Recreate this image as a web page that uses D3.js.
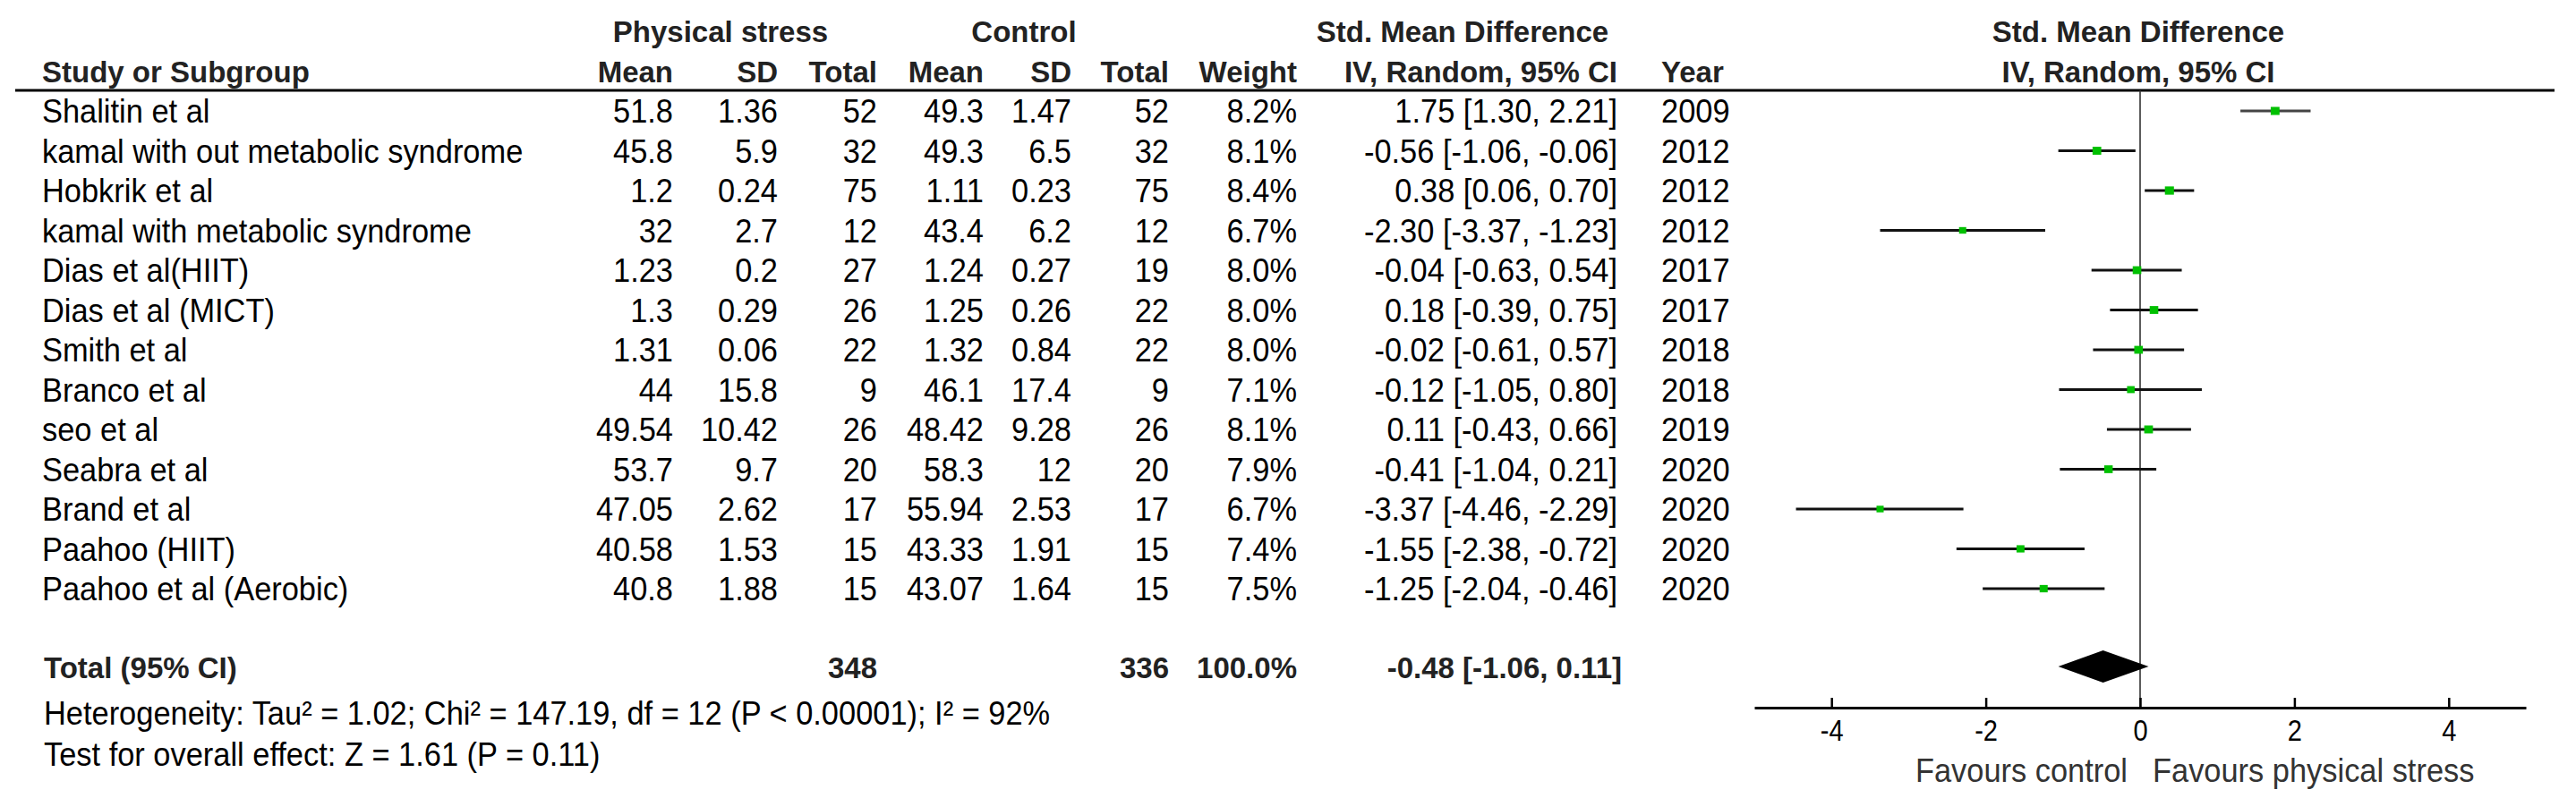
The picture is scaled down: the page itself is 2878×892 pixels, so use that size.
<!DOCTYPE html>
<html>
<head>
<meta charset="utf-8">
<script src="https://cdn.jsdelivr.net/npm/d3@7/dist/d3.min.js"></script>
<style>
  html, body { margin: 0; padding: 0; background: #fff; }
  svg { display: block; }
  text { font-family: "Liberation Sans", Arial, sans-serif; fill: #000; }
  .b { font-weight: bold; fill: #222; }
</style>
</head>
<body>
<svg id="chart" width="2878" height="892"></svg>
<script>
// ---- data ----
const studies = ["Shalitin et al", "kamal with out metabolic syndrome", "Hobkrik et al",
  "kamal with metabolic syndrome", "Dias et al(HIIT)", "Dias et al (MICT)", "Smith et al",
  "Branco et al", "seo et al", "Seabra et al", "Brand et al", "Paahoo (HIIT)", "Paahoo et al (Aerobic)"];
const psMean  = [51.8, 45.8, 1.2, 32, 1.23, 1.3, 1.31, 44, 49.54, 53.7, 47.05, 40.58, 40.8];
const psSD    = [1.36, 5.9, 0.24, 2.7, 0.2, 0.29, 0.06, 15.8, 10.42, 9.7, 2.62, 1.53, 1.88];
const psTotal = [52, 32, 75, 12, 27, 26, 22, 9, 26, 20, 17, 15, 15];
const ctMean  = [49.3, 49.3, 1.11, 43.4, 1.24, 1.25, 1.32, 46.1, 48.42, 58.3, 55.94, 43.33, 43.07];
const ctSD    = [1.47, 6.5, 0.23, 6.2, 0.27, 0.26, 0.84, 17.4, 9.28, 12, 2.53, 1.91, 1.64];
const ctTotal = [52, 32, 75, 12, 19, 22, 22, 9, 26, 20, 17, 15, 15];
const weights = [8.2, 8.1, 8.4, 6.7, 8.0, 8.0, 8.0, 7.1, 8.1, 7.9, 6.7, 7.4, 7.5];
const smd     = [1.75, -0.56, 0.38, -2.30, -0.04, 0.18, -0.02, -0.12, 0.11, -0.41, -3.37, -1.55, -1.25];
const ciLow   = [1.30, -1.06, 0.06, -3.37, -0.63, -0.39, -0.61, -1.05, -0.43, -1.04, -4.46, -2.38, -2.04];
const ciHigh  = [2.21, -0.06, 0.70, -1.23, 0.54, 0.75, 0.57, 0.80, 0.66, 0.21, -2.29, -0.72, -0.46];
const years   = [2009, 2012, 2012, 2012, 2017, 2017, 2018, 2018, 2019, 2020, 2020, 2020, 2020];
const total   = { ps: 348, ct: 336, weight: 100.0, smd: -0.48, lo: -1.06, hi: 0.11 };
const ticks   = [-4, -2, 0, 2, 4];
const hetText = "Heterogeneity: Tau\u00B2 = 1.02; Chi\u00B2 = 147.19, df = 12 (P < 0.00001); I\u00B2 = 92%";
const effText = "Test for overall effect: Z = 1.61 (P = 0.11)";

// ---- layout ----
const svg = d3.select("#chart");
const fs = 37, sx = 0.93, fsb = 33;
const x = d3.scaleLinear().domain([-5, 5]).range([1960, 2822]);
const y = d3.scalePoint().domain(d3.range(studies.length)).range([124, 658]);
const yTotal = 745, yAxis = 791, yHeadLine = 101;
const base = 13;

const fmt2 = v => v.toFixed(2);
const ciStr = (m, l, h) => `${fmt2(m)} [${fmt2(l)}, ${fmt2(h)}]`;

function txt(xp, yp, s, anchor, bold, size, color) {
  const g = svg.append("g").attr("transform", bold ? `translate(${xp},${yp})` : `translate(${xp},${yp}) scale(${sx},1)`);
  g.append("text").attr("text-anchor", anchor || "start")
    .attr("class", bold ? "b" : null).style("font-size", (size || (bold ? fsb : fs)) + "px")
    .style("fill", color || null).text(s);
}
// header
txt(805, 47, "Physical stress", "middle", true);
txt(1144, 47, "Control", "middle", true);
txt(1634, 47, "Std. Mean Difference", "middle", true);
txt(2389, 47, "Std. Mean Difference", "middle", true);
txt(47, 92, "Study or Subgroup", "start", true);
txt(752, 92, "Mean", "end", true);
txt(869, 92, "SD", "end", true);
txt(980, 92, "Total", "end", true);
txt(1099, 92, "Mean", "end", true);
txt(1197, 92, "SD", "end", true);
txt(1306, 92, "Total", "end", true);
txt(1449, 92, "Weight", "end", true);
txt(1807, 92, "IV, Random, 95% CI", "end", true);
txt(1856, 92, "Year", "start", true);
txt(2389, 92, "IV, Random, 95% CI", "middle", true);

svg.append("line").attr("x1", 17).attr("x2", 2854).attr("y1", yHeadLine).attr("y2", yHeadLine)
  .attr("stroke", "#000").attr("stroke-width", 3);

// rows
const cols = [
  { x: 47,   a: "start", f: i => studies[i] },
  { x: 752,  a: "end",   f: i => String(psMean[i]) },
  { x: 869,  a: "end",   f: i => String(psSD[i]) },
  { x: 980,  a: "end",   f: i => String(psTotal[i]) },
  { x: 1099, a: "end",   f: i => String(ctMean[i]) },
  { x: 1197, a: "end",   f: i => String(ctSD[i]) },
  { x: 1306, a: "end",   f: i => String(ctTotal[i]) },
  { x: 1449, a: "end",   f: i => weights[i].toFixed(1) + "%" },
  { x: 1807, a: "end",   f: i => ciStr(smd[i], ciLow[i], ciHigh[i]) },
  { x: 1856, a: "start", f: i => String(years[i]) }
];
const rows = svg.append("g").selectAll("g").data(d3.range(studies.length)).join("g");
cols.forEach(c => {
  rows.append("g").attr("transform", i => `translate(${c.x},${y(i) + base}) scale(${sx},1)`)
    .append("text").attr("text-anchor", c.a).style("font-size", fs + "px").text(c.f);
});

// zero line
svg.append("line").attr("x1", x(0)).attr("x2", x(0)).attr("y1", yHeadLine).attr("y2", yAxis)
  .attr("stroke", "#333").attr("stroke-width", 1.6);

// CI lines & squares
const marks = svg.append("g").selectAll("g").data(d3.range(studies.length)).join("g");
marks.append("line").attr("x1", i => x(ciLow[i])).attr("x2", i => x(ciHigh[i]))
  .attr("y1", i => y(i)).attr("y2", i => y(i)).attr("stroke", (d, i) => i === 0 ? "#444" : "#111").attr("stroke-width", 3);
marks.append("rect")
  .attr("x", i => x(smd[i]) - weights[i] * 0.6).attr("y", i => y(i) - weights[i] * 0.55)
  .attr("width", i => weights[i] * 1.2).attr("height", i => weights[i] * 1.1)
  .attr("fill", "#00c000");

// total row
txt(49, yTotal + 13, "Total (95% CI)", "start", true);
txt(980, yTotal + 13, String(total.ps), "end", true);
txt(1306, yTotal + 13, String(total.ct), "end", true);
txt(1449, yTotal + 13, total.weight.toFixed(1) + "%", "end", true);
txt(1812, yTotal + 13, ciStr(total.smd, total.lo, total.hi), "end", true);
const dh = 18;
svg.append("path")
  .attr("d", `M${x(total.lo)},${yTotal} L${x(total.smd)},${yTotal - dh} L${x(total.hi)},${yTotal} L${x(total.smd)},${yTotal + dh} Z`)
  .attr("fill", "#000");

txt(49, 810, hetText, "start", false, fs);
txt(49, 856, effText, "start", false, fs);

// axis
const axis = d3.axisBottom(x).tickValues(ticks).tickFormat(d => String(d))
  .tickSizeInner(-11).tickSizeOuter(0).tickPadding(14);
const ag = svg.append("g").attr("transform", `translate(0,${yAxis})`).call(axis);
ag.select(".domain").attr("stroke", "#000").attr("stroke-width", 3);
ag.selectAll(".tick line").attr("stroke", "#000").attr("stroke-width", 2.5);
ag.selectAll(".tick text").style("font-size", "33px").style("font-family", '"Liberation Sans", Arial, sans-serif')
  .attr("fill", "#000").attr("transform", "scale(0.88,1)");

txt(x(0) - 14, 874, "Favours control", "end", false, fs, "#333");
txt(x(0) + 14, 874, "Favours physical stress", "start", false, fs, "#333");
</script>
</body>
</html>
